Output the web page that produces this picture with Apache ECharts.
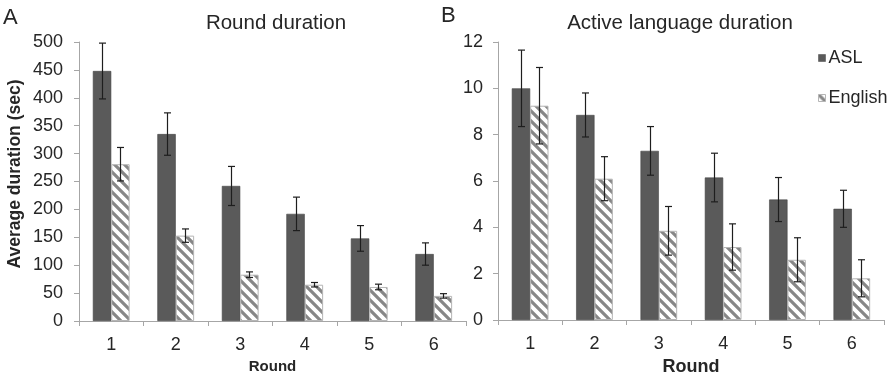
<!DOCTYPE html>
<html>
<head>
<meta charset="utf-8">
<script src="https://cdn.jsdelivr.net/npm/echarts@6/dist/echarts.min.js"></script>
<style>
  html, body { margin: 0; padding: 0; background: #fff; }
  #main { width: 894px; height: 375px; }
</style>
</head>
<body>
<div id="main"></div>
<script>
var rounds = ['1', '2', '3', '4', '5', '6'];

// panel A: round duration (sec)
var aslRound = [448, 335, 242, 192, 148, 120];
var aslRoundErr = [50, 38, 35, 30, 23, 20];
var engRound = [281, 153, 83, 65, 61, 45];
var engRoundErr = [30, 12, 5, 4, 5, 4];

// panel B: active language duration
var aslActive = [10.0, 8.85, 7.3, 6.15, 5.2, 4.8];
var aslActiveErr = [1.65, 0.95, 1.05, 1.05, 0.95, 0.8];
var engActive = [9.25, 6.1, 3.85, 3.15, 2.6, 1.8];
var engActiveErr = [1.65, 0.95, 1.05, 1.0, 0.95, 0.8];

var FONT = '"Liberation Sans", Arial, sans-serif';
var TXT = '#262626';
var AXIS = '#a6a6a6';
var DARK = '#5a5a5a';
var CAT_GAP = 0.43;

// hatch pattern, stripes going down to the right
function makeHatch() {
  var s = 10;
  var c = document.createElement('canvas');
  c.width = s; c.height = s;
  var ctx = c.getContext('2d');
  ctx.fillStyle = '#fff';
  ctx.fillRect(0, 0, s, s);
  ctx.strokeStyle = '#878787';
  ctx.lineWidth = 3.2;
  ctx.beginPath();
  ctx.moveTo(-2, -2); ctx.lineTo(s + 2, s + 2);
  ctx.moveTo(-2 - s, -2); ctx.lineTo(2, s + 2);
  ctx.moveTo(s - 2, -2); ctx.lineTo(2 * s + 2, s + 2);
  ctx.stroke();
  return c;
}
var hatch = { image: makeHatch(), repeat: 'repeat' };

function errData(means, errs) {
  return means.map(function (m, i) { return [i, m - errs[i], m + errs[i]]; });
}

// side: -1 left bar (ASL), +1 right bar (English)
function errorRenderer(side) {
  return function (params, api) {
    var idx = api.value(0);
    var lo = api.coord([idx, api.value(1)]);
    var hi = api.coord([idx, api.value(2)]);
    var band = api.size([1, 0])[0];
    var bw = band * (1 - CAT_GAP) / 2;
    var cx = Math.round(lo[0] + side * bw / 2) + 0.5;
    var cap = 3.5;
    var st = { stroke: '#1e1e1e', lineWidth: 1.2 };
    return {
      type: 'group',
      children: [
        { type: 'line', shape: { x1: cx, y1: lo[1], x2: cx, y2: hi[1] }, style: st },
        { type: 'line', shape: { x1: cx - cap, y1: lo[1], x2: cx + cap, y2: lo[1] }, style: st },
        { type: 'line', shape: { x1: cx - cap, y1: hi[1], x2: cx + cap, y2: hi[1] }, style: st }
      ]
    };
  };
}

function xAxisFor(gi, nameSize, nameGap) {
  return {
    type: 'category', gridIndex: gi, data: rounds,
    name: 'Round', nameLocation: 'middle', nameGap: nameGap,
    nameTextStyle: { fontFamily: FONT, fontWeight: 'bold', fontSize: nameSize, color: TXT },
    axisLine: { lineStyle: { color: AXIS } },
    axisTick: { show: true, length: 5, lineStyle: { color: AXIS } },
    axisLabel: { fontFamily: FONT, fontSize: 18, color: TXT, margin: 15 }
  };
}

function yAxisFor(gi, max, interval, margin) {
  return {
    type: 'value', gridIndex: gi, min: 0, max: max, interval: interval,
    splitLine: { show: false },
    axisLine: { show: true, lineStyle: { color: AXIS } },
    axisTick: { show: true, length: 5, lineStyle: { color: AXIS } },
    axisLabel: { fontFamily: FONT, fontSize: 18, color: TXT, margin: margin }
  };
}

var chart = echarts.init(document.getElementById('main'));

var option = {
  backgroundColor: '#fff',
  animation: false,
  title: [
    { text: 'A', left: -2, top: 2, textStyle: { fontFamily: FONT, fontWeight: 'normal', fontSize: 22, color: TXT } },
    { text: 'B', left: 436, top: 0, textStyle: { fontFamily: FONT, fontWeight: 'normal', fontSize: 22, color: TXT } },
    { text: 'Round duration', left: 271, top: 8, textAlign: 'center', textStyle: { fontFamily: FONT, fontWeight: 'normal', fontSize: 20.5, color: TXT } },
    { text: 'Active language duration', left: 675, top: 8, textAlign: 'center', textStyle: { fontFamily: FONT, fontWeight: 'normal', fontSize: 20.5, color: TXT } }
  ],
  graphic: [{
    type: 'text', x: 15, y: 174, rotation: Math.PI / 2,
    style: { text: 'Average duration (sec)', fontFamily: FONT, fontWeight: 'bold', fontSize: 17.5,
      fill: TXT, align: 'center', verticalAlign: 'middle' }
  }],
  legend: {
    orient: 'vertical', left: 813, top: 44,
    itemWidth: 7, itemHeight: 7, itemGap: 22,
    textStyle: { fontFamily: FONT, fontSize: 18, color: TXT, padding: [0, 0, 0, -2] },
    data: [
      { name: 'ASL', icon: 'rect', itemStyle: { color: DARK, borderColor: '#444', borderWidth: 0.5 } },
      { name: 'English', icon: 'rect', itemStyle: { color: hatch, borderColor: '#b5b5b5', borderWidth: 1 } }
    ]
  },
  grid: [
    { left: 79, right: 428, top: 42, bottom: 54, outerBoundsMode: 'none' },
    { left: 498, right: 10, top: 42, bottom: 55, outerBoundsMode: 'none' }
  ],
  xAxis: [xAxisFor(0, 15, 34), xAxisFor(1, 18, 33)],
  yAxis: [yAxisFor(0, 500, 50, 16), yAxisFor(1, 12, 2, 15)],
  series: [
    { name: 'ASL', type: 'bar', xAxisIndex: 0, yAxisIndex: 0, data: aslRound,
      barGap: '0%', barCategoryGap: '43%',
      itemStyle: { color: DARK, borderColor: '#444', borderWidth: 0.6 } },
    { name: 'English', type: 'bar', xAxisIndex: 0, yAxisIndex: 0, data: engRound,
      barGap: '0%', barCategoryGap: '43%',
      itemStyle: { color: hatch, borderColor: '#b5b5b5', borderWidth: 1 } },
    { name: 'ASL', type: 'bar', xAxisIndex: 1, yAxisIndex: 1, data: aslActive,
      barGap: '0%', barCategoryGap: '43%',
      itemStyle: { color: DARK, borderColor: '#444', borderWidth: 0.6 } },
    { name: 'English', type: 'bar', xAxisIndex: 1, yAxisIndex: 1, data: engActive,
      barGap: '0%', barCategoryGap: '43%',
      itemStyle: { color: hatch, borderColor: '#b5b5b5', borderWidth: 1 } },
    { type: 'custom', xAxisIndex: 0, yAxisIndex: 0, renderItem: errorRenderer(-1),
      data: errData(aslRound, aslRoundErr), z: 5 },
    { type: 'custom', xAxisIndex: 0, yAxisIndex: 0, renderItem: errorRenderer(1),
      data: errData(engRound, engRoundErr), z: 5 },
    { type: 'custom', xAxisIndex: 1, yAxisIndex: 1, renderItem: errorRenderer(-1),
      data: errData(aslActive, aslActiveErr), z: 5 },
    { type: 'custom', xAxisIndex: 1, yAxisIndex: 1, renderItem: errorRenderer(1),
      data: errData(engActive, engActiveErr), z: 5 }
  ]
};

chart.setOption(option);
</script>
</body>
</html>
